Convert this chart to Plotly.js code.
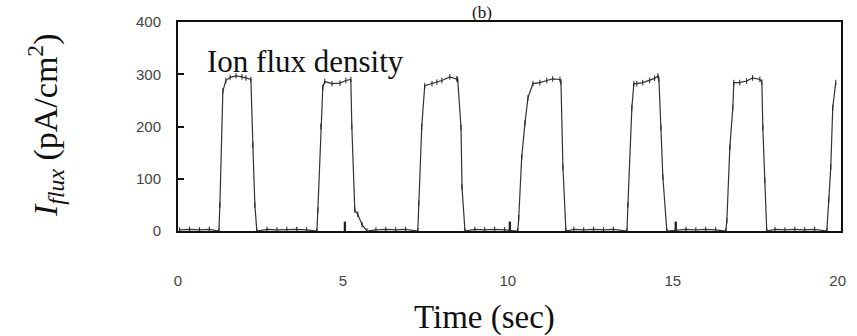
<!DOCTYPE html>
<html>
<head>
<meta charset="utf-8">
<script src="https://cdn.plot.ly/plotly-3.0.1.min.js"></script>
<style>html,body{margin:0;padding:0;background:#fff;}#chart{width:857px;height:336px;}</style>
</head>
<body>
<div id="chart"></div>
<script>
// Time (sec) samples of the ion flux trace
const timeSec = [
  0.05, 0.35, 0.65, 0.95,
  1.24, 1.27, 1.36, 1.45, 1.58, 1.76, 1.94, 2.06, 2.21, 2.27, 2.33, 2.39,
  2.7, 3.0, 3.3, 3.6, 3.9,
  4.21, 4.24, 4.33, 4.39, 4.45, 4.67, 4.91, 5.09, 5.24, 5.27, 5.36, 5.45, 5.58, 5.73,
  6.0, 6.3, 6.6, 6.9,
  7.27, 7.30, 7.39, 7.48, 7.70, 7.85, 8.00, 8.24, 8.45, 8.48, 8.58, 8.61, 8.70,
  9.0, 9.3, 9.6, 9.9,
  10.30, 10.33, 10.42, 10.52, 10.61, 10.76, 10.97, 11.18, 11.36, 11.58, 11.61, 11.67, 11.76,
  12.0, 12.3, 12.6, 12.9, 13.2,
  13.61, 13.64, 13.76, 13.82, 13.91, 14.09, 14.30, 14.45, 14.55, 14.58, 14.64, 14.70, 14.82,
  15.1, 15.4, 15.7, 16.0, 16.3,
  16.61, 16.64, 16.73, 16.82, 16.85, 17.03, 17.24, 17.42, 17.64, 17.70, 17.73, 17.79, 17.85,
  18.1, 18.4, 18.7, 19.0, 19.3,
  19.67, 19.73, 19.79, 19.85, 19.94
];
// Ion flux density (pA/cm^2)
const fluxValues = [
  2, 3, 2, 3,
  0, 50, 268, 288, 294, 297, 295, 293, 290, 164, 50, 0,
  3, 2, 3, 3, 2,
  0, 40, 200, 275, 286, 282, 283, 288, 290, 200, 40, 32, 12, 0,
  2, 3, 2, 3,
  0, 53, 200, 278, 282, 285, 288, 295, 291, 290, 198, 84, 0,
  3, 2, 3, 2,
  0, 25, 141, 207, 255, 282, 284, 288, 291, 290, 285, 122, 0,
  3, 2, 3, 2, 3,
  0, 50, 236, 282, 282, 284, 288, 292, 297, 290, 198, 103, 0,
  2, 3, 2, 3, 2,
  0, 20, 160, 236, 284, 284, 287, 293, 290, 285, 198, 97, 0,
  3, 2, 3, 2, 3,
  0, 60, 122, 236, 284
];
// Small spikes on the baseline
const spikeTime = [5.06, 10.06, 15.09];
const spikeValue = [18, 18, 18];

const xTickVals = [0, 5, 10, 15, 20];
const xTickText = ['0', '5', '10', '15', '20'];
const yTickVals = [0, 100, 200, 300, 400];
const yTickText = ['0', '100', '200', '300', '400'];

const serif = '"Liberation Serif", "Times New Roman", Times, serif';
const narrow = '"Liberation Sans Narrow", "Liberation Sans", Arial, sans-serif';

const traces = [
  {
    type: 'bar', x: spikeTime, y: spikeValue, width: 0.07,
    marker: {color: '#222', line: {width: 0}}, hoverinfo: 'skip', showlegend: false
  },
  {
    type: 'scatter', mode: 'lines+markers', x: timeSec, y: fluxValues,
    line: {color: '#333', width: 1.2},
    marker: {symbol: 'line-ns-open', size: 4, color: '#222', line: {color: '#222', width: 1}},
    cliponaxis: true, showlegend: false
  }
];

const layout = {
  width: 857, height: 336,
  margin: {l: 178, r: 16, t: 22, b: 105, pad: 0},
  paper_bgcolor: '#fff', plot_bgcolor: '#fff',
  showlegend: false,
  xaxis: {
    range: [0, 20.1], tickvals: xTickVals, ticktext: xTickText,
    showgrid: false, zeroline: false, ticks: '',
    showline: true, mirror: true, linecolor: '#111', linewidth: 2,
    ticklabelstandoff: 35,
    tickfont: {family: narrow, size: 15, color: '#444'}
  },
  yaxis: {
    range: [0, 400], tickvals: yTickVals, ticktext: yTickText,
    showgrid: false, zeroline: false, ticks: 'inside', ticklen: 6, tickwidth: 2, tickcolor: '#111',
    showline: true, mirror: true, linecolor: '#111', linewidth: 2,
    ticklabelstandoff: 12,
    tickfont: {family: narrow, size: 15, color: '#444'}
  },
  annotations: [
    {text: 'Ion flux density', xref: 'paper', yref: 'paper', x: 0.04, y: 0.81,
     xanchor: 'left', yanchor: 'middle', showarrow: false,
     font: {family: serif, size: 31, color: '#111'}},
    {text: 'Time (sec)', xref: 'paper', yref: 'paper', x: 0.463, y: -0.416,
     xanchor: 'center', yanchor: 'middle', showarrow: false,
     font: {family: serif, size: 33, color: '#111'}},
    {text: '<i>I<sub>flux</sub></i> (pA/cm<sup>2</sup>)', xref: 'paper', yref: 'paper', x: -0.2006, y: 0.507,
     xanchor: 'center', yanchor: 'middle', textangle: -90, showarrow: false,
     font: {family: serif, size: 34, color: '#111'}},
    {text: '(b)', xref: 'paper', yref: 'paper', x: 0.4585, y: 1.098,
     xanchor: 'center', yanchor: 'top', showarrow: false, borderpad: 0,
     font: {family: serif, size: 17, color: '#111'}}
  ]
};

Plotly.newPlot('chart', traces, layout, {displayModeBar: false, staticPlot: true});
</script>
</body>
</html>
